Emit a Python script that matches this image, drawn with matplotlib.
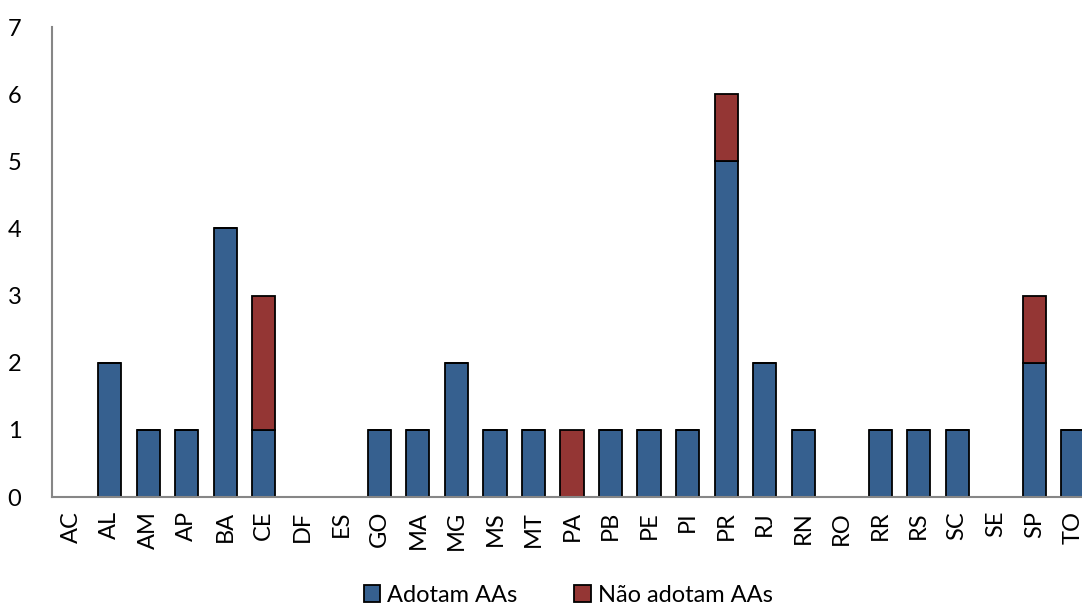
import matplotlib.pyplot as plt
import numpy as np

estados = ["AC", "AL", "AM", "AP", "BA", "CE", "DF", "ES", "GO", "MA", "MG", "MS", "MT", "PA",
           "PB", "PE", "PI", "PR", "RJ", "RN", "RO", "RR", "RS", "SC", "SE", "SP", "TO"]
adotam = [0, 2, 1, 1, 4, 1, 0, 0, 1, 1, 2, 1, 1, 0, 1, 1, 1, 5, 2, 1, 0, 1, 1, 1, 0, 2, 1]
nao_adotam = [0, 0, 0, 0, 0, 2, 0, 0, 0, 0, 0, 0, 0, 1, 0, 0, 0, 1, 0, 0, 0, 0, 0, 0, 0, 1, 0]

plt.rcParams["font.family"] = ["Lato", "DejaVu Sans"]

fig = plt.figure(figsize=(10.82, 6.06), dpi=100)
# o eixo passa um pouco da borda direita, por isso o TO fica cortado
ax = fig.add_axes([52 / 1082, 109 / 606, 1040 / 1082, 470 / 606])

x = np.arange(len(estados))
ax.bar(x, adotam, width=0.6, color="#36608f", edgecolor="black", linewidth=1.3,
       label="Adotam AAs")
ax.bar(x, nao_adotam, width=0.6, bottom=adotam, color="#943634", edgecolor="black",
       linewidth=1.3, label="Não adotam AAs")

ax.set_xlim(-0.5, len(estados) - 0.5)
ax.set_ylim(0, 7)
ax.set_yticks(range(8))
ax.set_xticks(x)
ax.set_xticklabels(estados, rotation=90, fontsize=17)
ax.tick_params(axis="y", labelsize=17, length=0, pad=22)
ax.tick_params(axis="x", length=0, pad=10)

for s in ["top", "right"]:
    ax.spines[s].set_visible(False)
for s in ["left", "bottom"]:
    ax.spines[s].set_color("#868686")
    ax.spines[s].set_linewidth(1.5)

fig.legend(loc="lower center", bbox_to_anchor=(0.525, -0.035), ncol=2, frameon=False,
           fontsize=17, handlelength=0.7, handleheight=0.7, handletextpad=0.3,
           columnspacing=2.4)

fig.savefig("out.png", dpi=100)
